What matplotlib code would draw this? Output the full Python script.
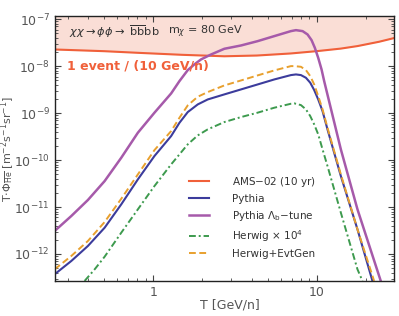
import matplotlib
matplotlib.use('Agg')
import matplotlib.pyplot as plt

# AMS-02 sensitivity (1 event / 10 GeV/n)
T_ams = [0.25, 0.5, 0.805, 1.5, 2.72, 4.3, 6.94, 10.09, 14.0, 17.7, 24.0, 30.0]
phi_ams = [2.26e-8, 2.08e-8, 1.92e-8, 1.74e-8, 1.62e-8, 1.68e-8, 1.86e-8, 2.09e-8, 2.36e-8, 2.67e-8, 3.3e-8, 4.0e-8]

# Pythia
T_py = [0.250, 0.316, 0.399, 0.505, 0.638, 0.806, 1.018, 1.287, 1.447, 1.626, 1.872, 2.153, 2.721,
        3.439, 4.345, 5.49, 6.94, 7.45, 7.99, 8.57, 9.11, 9.63, 10.19, 10.83, 11.61, 14.01, 17.70, 21.85]
phi_py = [3.70e-13, 7.10e-13, 1.48e-12, 3.63e-12, 1.14e-11, 3.88e-11, 1.22e-10, 3.24e-10, 6.22e-10,
          1.05e-9, 1.53e-9, 1.95e-9, 2.50e-9, 3.19e-9, 4.07e-9, 5.20e-9, 6.44e-9, 6.65e-9, 6.44e-9,
          5.65e-9, 4.43e-9, 3.09e-9, 1.95e-9, 1.10e-9, 4.50e-10, 4.57e-11, 3.35e-12, 2.67e-13]

# Pythia Lambda_b tune
T_lb = [0.250, 0.316, 0.399, 0.505, 0.638, 0.806, 1.018, 1.287, 1.447, 1.626, 1.786, 1.961, 2.257, 2.721,
        3.439, 4.345, 5.49, 6.94, 7.45, 8.18, 8.77, 9.28, 9.72, 10.19, 10.68, 11.08, 14.01, 17.70, 24.56]
phi_lb = [3.09e-12, 6.44e-12, 1.41e-11, 3.57e-11, 1.12e-10, 3.82e-10, 1.02e-9, 2.62e-9, 4.80e-9,
          8.22e-9, 1.09e-8, 1.39e-8, 1.77e-8, 2.34e-8, 2.75e-8, 3.40e-8, 4.35e-8, 5.56e-8, 5.83e-8,
          5.56e-8, 4.72e-8, 3.57e-8, 2.45e-8, 1.50e-8, 8.50e-9, 4.80e-9, 1.69e-10, 8.93e-12, 2.67e-13]

# Herwig x 1e4
T_hw = [0.381, 0.439, 0.505, 0.638, 0.806, 1.018, 1.287, 1.626, 1.872, 2.153, 2.721,
        3.439, 4.345, 5.49, 6.94, 7.27, 7.99, 8.57, 9.11, 9.63, 10.19, 10.83, 11.61, 14.01, 17.70, 18.99]
phi_hw = [2.67e-13, 4.72e-13, 8.77e-13, 2.84e-12, 8.93e-12, 2.80e-11, 8.09e-11, 2.16e-10, 3.35e-10,
          4.50e-10, 6.44e-10, 8.22e-10, 1.02e-9, 1.30e-9, 1.58e-9, 1.61e-9, 1.48e-9, 1.20e-9, 8.63e-10,
          5.74e-10, 3.52e-10, 1.69e-10, 7.46e-11, 7.59e-12, 4.72e-13, 2.67e-13]

# Herwig + EvtGen
T_ev = [0.250, 0.316, 0.399, 0.505, 0.638, 0.806, 1.018, 1.287, 1.447, 1.626, 1.872, 2.153, 2.721,
        3.439, 4.345, 5.49, 6.94, 7.27, 7.99, 8.57, 9.11, 9.63, 10.19, 10.83, 11.61, 14.01, 17.70, 22.37]
phi_ev = [4.72e-13, 9.08e-13, 1.89e-12, 4.80e-12, 1.50e-11, 4.95e-11, 1.63e-10, 4.14e-10, 7.96e-10,
          1.46e-9, 2.23e-9, 2.80e-9, 3.88e-9, 4.95e-9, 6.34e-9, 8.09e-9, 1.00e-8, 1.00e-8, 9.68e-9,
          8.22e-9, 6.13e-9, 4.07e-9, 2.30e-9, 1.20e-9, 4.88e-10, 4.95e-11, 3.35e-12, 2.67e-13]

labels = ['AMS$-$02 (10 yr)', 'Pythia', r'Pythia $\Lambda_{\rm b}$$-$tune',
          r'Herwig $\times$ 10$^4$', 'Herwig+EvtGen']
yticks = [1e-12, 1e-11, 1e-10, 1e-9, 1e-8, 1e-7]
xticks = [1, 10]

c_ams = '#f0603a'
c_py = '#3c3c9c'
c_lb = '#a65aaa'
c_hw = '#3d9a4e'
c_ev = '#e8a02e'
grey = '#555555'

fig = plt.figure(figsize=(3.99, 3.16), dpi=100)
ax = fig.add_axes([0.137, 0.111, 0.8505, 0.838])

ymax = 1.16e-7
ax.fill_between(T_ams, phi_ams, ymax, color='#f8c8bc', alpha=0.6, lw=0)
ax.plot(T_ams, phi_ams, color=c_ams, lw=1.5, label=labels[0])
ax.plot(T_py, phi_py, color=c_py, lw=1.5, label=labels[1])
ax.plot(T_lb, phi_lb, color=c_lb, lw=1.8, label=labels[2])
ax.plot(T_hw, phi_hw, color=c_hw, lw=1.4, ls=(0, (3.5, 1.5, 1, 1.5)), label=labels[3])
ax.plot(T_ev, phi_ev, color=c_ev, lw=1.4, ls=(0, (3.5, 1.8)), label=labels[4])

ax.set_xscale('log')
ax.set_yscale('log')
ax.set_xlim(0.25, 29.6)
ax.set_ylim(2.67e-13, ymax)
ax.set_yticks(yticks)
ax.set_xticks(xticks)

ax.tick_params(which='both', direction='in', top=True, right=True, colors='#444444',
               labelcolor=grey, labelsize=9)
ax.tick_params(which='major', length=4, width=0.8)
ax.tick_params(which='minor', length=2, width=0.6)
ax.xaxis.set_major_formatter(matplotlib.ticker.FuncFormatter(lambda v, p: '%g' % v))
ax.xaxis.set_minor_formatter(matplotlib.ticker.NullFormatter())
ax.yaxis.set_minor_formatter(matplotlib.ticker.NullFormatter())
for s in ax.spines.values():
    s.set_color('#222222')
    s.set_linewidth(1.0)

ax.set_xlabel('T [GeV/n]', color=grey, fontsize=9)
ax.xaxis.set_label_coords(0.515, -0.068)
ax.set_ylabel(r'T$\cdot\Phi_{\overline{\rm He}}$ [m$^{-2}$s$^{-1}$sr$^{-1}$]', color=grey, fontsize=8)
ax.yaxis.set_label_coords(-0.11, 0.5)

ax.text(0.042, 0.94, r'$\chi\chi \rightarrow \phi\phi \rightarrow$ $\overline{\rm bb}{\rm bb}$',
        transform=ax.transAxes, fontsize=8.2, color='#333333', va='center')
ax.text(0.335, 0.94, r'm$_\chi$ = 80 GeV',
        transform=ax.transAxes, fontsize=8, color='#333333', va='center')
ax.text(0.037, 0.81, '1 event / (10 GeV/n)', transform=ax.transAxes, fontsize=9,
        color=c_ams, fontweight='bold', va='center')

ax.legend(loc='upper left', bbox_to_anchor=(0.396, 0.40), frameon=False, fontsize=7.5,
          borderpad=0, borderaxespad=0, handlelength=1.9, handletextpad=2.2,
          labelspacing=0.48, labelcolor='#333333')

fig.savefig('out.png', dpi=100)
